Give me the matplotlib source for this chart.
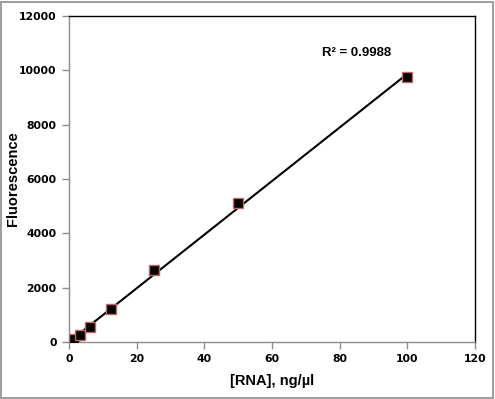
import matplotlib
matplotlib.use("Agg")
import matplotlib.pyplot as plt
import numpy as np

conc = [0, 0.78, 1.56, 3.125, 6.25, 12.5, 25, 50, 100]
fluor = [0, 40, 110, 250, 560, 1230, 2650, 5100, 9750]
xticks = [0, 20, 40, 60, 80, 100, 120]
yticks = [0, 2000, 4000, 6000, 8000, 10000, 12000]
r2_label = "R² = 0.9988"

fig = plt.figure(figsize=(4.95, 3.99), dpi=100)
fig.patch.set_facecolor("white")
fig.add_artist(plt.Rectangle((0.002, 0.003), 0.994, 0.993, transform=fig.transFigure,
                             fill=False, edgecolor="#8c8c8c", linewidth=1.2))
ax = fig.add_axes([0.1394, 0.1429, 0.8202, 0.8171])

slope, intercept = np.polyfit(conc, fluor, 1)
xl = np.array([min(conc), max(conc)])
ax.plot(xl, slope * xl + intercept, color="black", linewidth=1.5, zorder=2)
ax.plot(conc, fluor, linestyle="none", marker="s", markersize=7.5,
        markerfacecolor="black", markeredgecolor="#c06868", markeredgewidth=1.0, zorder=3)

ax.set_xlim(0, 120)
ax.set_ylim(0, 12000)
ax.set_xticks(xticks)
ax.set_yticks(yticks)
ax.set_xticklabels([str(t) for t in xticks], fontsize=7.8, fontweight="bold")
ax.set_yticklabels([str(t) for t in yticks], fontsize=7.8, fontweight="bold")
ax.tick_params(axis="both", direction="out", length=5, color="#8c8c8c", width=1, pad=4)

for s in ["left", "bottom"]:
    ax.spines[s].set_color("#8c8c8c")
    ax.spines[s].set_linewidth(1)
for s in ["top", "right"]:
    ax.spines[s].set_color("black")
    ax.spines[s].set_linewidth(1)

ax.set_xlabel("[RNA], ng/µl", fontsize=10.5, fontweight="bold", family="Liberation Sans")
ax.set_ylabel("Fluorescence", fontsize=10.5, fontweight="bold", family="Liberation Sans")
ax.xaxis.set_label_coords(0.5, (342 - 381) / 326)
ax.yaxis.set_label_coords((13 - 69) / 406, 0.5)
ax.xaxis.label.set_va("center")
ax.yaxis.label.set_va("center")
ax.text(85.1, 10640, r2_label, fontsize=9.5, fontweight="bold", family="Liberation Sans",
        ha="center", va="center")

fig.savefig("out.png", dpi=100)
